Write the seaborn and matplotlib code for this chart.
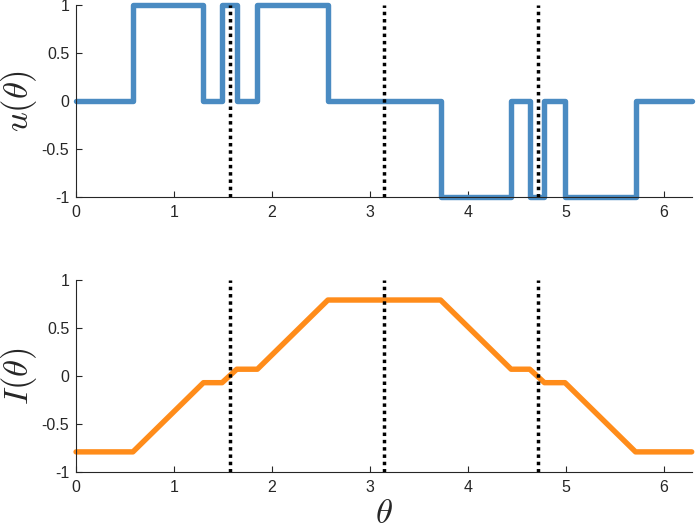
import numpy as np
import pandas as pd
import seaborn as sns
import matplotlib
matplotlib.use('Agg')
import matplotlib.pyplot as plt

# --- data ---
u_theta = [0, 0.58, 1.30, 1.49, 1.64, 1.85, 2.57, 3.72, 4.44, 4.63, 4.78, 4.99, 5.71, 2 * np.pi]
u_vals = [0, 1, 0, 1, 0, 1, 0, -1, 0, -1, 0, -1, 0, 0]

I_theta = [0, 0.58, 1.30, 1.49, 1.64, 1.85, 2.57, 3.72, 4.44, 4.63, 4.78, 4.99, 5.71, 2 * np.pi]
I_vals = [-0.79, -0.79, -0.07, -0.07, 0.07, 0.07, 0.79, 0.79, 0.07, 0.07, -0.07, -0.07, -0.79, -0.79]

marks = [np.pi / 2, np.pi, 3 * np.pi / 2]
xticks = [0, 1, 2, 3, 4, 5, 6]
yticks = [-1, -0.5, 0, 0.5, 1]
ytick_labels = ['-1', '-0.5', '0', '0.5', '1']

BLUE = '#4a8bc2'
ORANGE = '#ff8c1a'

sns.set_style('ticks')
plt.rcParams.update({
    'font.family': ['Liberation Sans', 'DejaVu Sans'],
    'mathtext.fontset': 'cm',
    'axes.edgecolor': '#262626', 'axes.linewidth': 0.8,
    'xtick.direction': 'in', 'ytick.direction': 'in',
    'xtick.color': '#262626', 'ytick.color': '#262626',
    'xtick.major.size': 4, 'ytick.major.size': 4,
    'xtick.major.pad': 6, 'ytick.major.pad': 5,
    'xtick.labelsize': 11.5, 'ytick.labelsize': 11.5,
})

df_u = pd.DataFrame({'theta': u_theta, 'u': u_vals})
df_I = pd.DataFrame({'theta': I_theta, 'I': I_vals})

fig = plt.figure(figsize=(6.98, 5.31), dpi=100)
ax1 = fig.add_axes([0.109, 0.629, 0.882, 0.362])
ax2 = fig.add_axes([0.109, 0.111, 0.882, 0.362])

sns.lineplot(data=df_u, x='theta', y='u', ax=ax1, color=BLUE, lw=3.9,
             drawstyle='steps-post', estimator=None, sort=False, clip_on=False)
sns.lineplot(data=df_I, x='theta', y='I', ax=ax2, color=ORANGE, lw=3.9,
             estimator=None, sort=False, clip_on=False)

for ax in (ax1, ax2):
    for m in marks:
        ax.axvline(m, color='black', lw=2.5, ls=(0, (1, 1.1)), zorder=3)
    ax.set_xlim(0, 2 * np.pi)
    ax.set_ylim(-1, 1)
    ax.set_xticks(xticks)
    ax.set_yticks(yticks)
    ax.set_yticklabels(ytick_labels)
    ax.set_xlabel('')
    sns.despine(ax=ax)

ax1.set_ylabel(r'$u(\theta)$', fontsize=25, labelpad=2)
ax2.set_ylabel(r'$I(\theta)$', fontsize=25, labelpad=2)
ax2.set_xlabel(r'$\theta$', fontsize=25, labelpad=1)

fig.savefig('out.png', dpi=100)
